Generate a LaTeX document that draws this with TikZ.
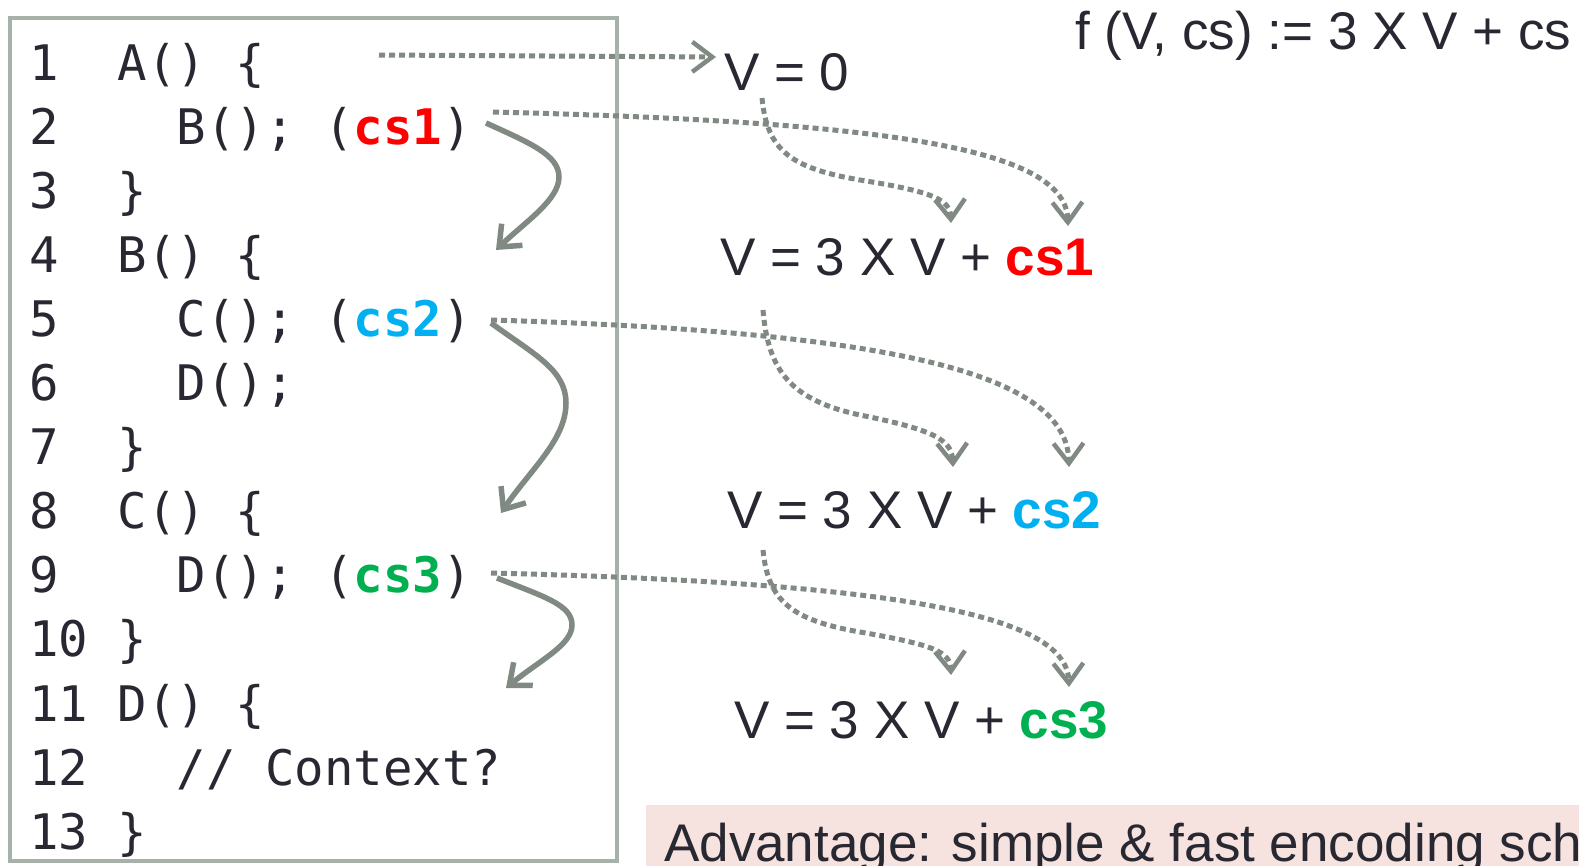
\documentclass[tikz,border=0pt]{standalone}
\usepackage{fontspec}
\setmainfont{Liberation Sans}
\setmonofont{DejaVu Sans Mono}
\usetikzlibrary{arrows.meta}
\definecolor{ink}{RGB}{40,40,50}
\definecolor{boxc}{RGB}{166,177,169}
\definecolor{arrc}{RGB}{128,138,130}
\definecolor{csred}{RGB}{255,0,0}
\definecolor{csblue}{RGB}{0,176,240}
\definecolor{csgreen}{RGB}{0,176,80}
\definecolor{pinkbg}{RGB}{246,226,222}
\begin{document}
\begin{tikzpicture}[x=1pt,y=-1pt,
  codeline/.style={anchor=base west, inner sep=0pt, text=ink, font=\ttfamily\fontsize{49}{59}\selectfont},
  eqtext/.style={anchor=base west, inner sep=0pt, text=ink, font=\fontsize{53}{63}\selectfont},
  dotarrow/.style={draw=arrc, line width=5pt, dash pattern=on 6pt off 4pt,
    -{Straight Barb[length=20pt,width=30pt,line width=4.5pt]}},
  solidarrow/.style={draw=arrc, line width=5.5pt,
    -{Straight Barb[length=18pt,width=30pt,line width=5.5pt]}}]
\useasboundingbox (0,0) rectangle (1579,865);
\clip (0,0) rectangle (1579,865);

% code box
\draw[boxc, line width=4.5pt] (10,18) rectangle (617,861);

% line numbers
\node[codeline] (n1)  at (29,80)    {1};
\node[codeline] (n2)  at (29,144.1) {2};
\node[codeline] (n3)  at (29,208.2) {3};
\node[codeline] (n4)  at (29,272.3) {4};
\node[codeline] (n5)  at (29,336.4) {5};
\node[codeline] (n6)  at (29,400.5) {6};
\node[codeline] (n7)  at (29,464.6) {7};
\node[codeline] (n8)  at (29,528.7) {8};
\node[codeline] (n9)  at (29,592.8) {9};
\node[codeline] (n10) at (29,656.9) {10};
\node[codeline] (n11) at (29,721)   {11};
\node[codeline] (n12) at (29,785.1) {12};
\node[codeline] (n13) at (29,849.2) {13};

% code
\node[codeline] (c1)  at (117.5,80)    {A() \{};
\node[codeline] (c2)  at (176.5,144.1) {B(); (\textbf{\textcolor{csred}{cs1}})};
\node[codeline] (c3)  at (117.5,208.2) {\}};
\node[codeline] (c4)  at (117.5,272.3) {B() \{};
\node[codeline] (c5)  at (176.5,336.4) {C(); (\textbf{\textcolor{csblue}{cs2}})};
\node[codeline] (c6)  at (176.5,400.5) {D();};
\node[codeline] (c7)  at (117.5,464.6) {\}};
\node[codeline] (c8)  at (117.5,528.7) {C() \{};
\node[codeline] (c9)  at (176.5,592.8) {D(); (\textbf{\textcolor{csgreen}{cs3}})};
\node[codeline] (c10) at (117.5,656.9) {\}};
\node[codeline] (c11) at (117.5,721)   {D() \{};
\node[codeline] (c12) at (176.5,785.1) {// Context?};
\node[codeline] (c13) at (117.5,849.2) {\}};

% right-hand formulas
\node[eqtext] (f)  at (1075,49) {f (V, cs) := 3 X V + cs};
\node[eqtext] (v0) at (724,90)  {V = 0};
\node[eqtext] (v1) at (720,275) {V = 3 X V + \textbf{\textcolor{csred}{cs1}}};
\node[eqtext] (v2) at (727,528) {V = 3 X V + \textbf{\textcolor{csblue}{cs2}}};
\node[eqtext] (v3) at (734,738) {V = 3 X V + \textbf{\textcolor{csgreen}{cs3}}};

% bottom banner
\fill[pinkbg] (646,805) rectangle (1600,900);
\node[anchor=base west, inner sep=0pt, text=ink, font=\fontsize{53}{63}\selectfont] (adv) at (664,861)
  {Advantage: simple \& fast encoding scheme};

% connector end points
\coordinate (a0s) at (379,55);
\coordinate (a0e) at (716,57);
\coordinate (s1) at (493,112);  \coordinate (t1) at (1068,226);
\coordinate (u1) at (762,98);   \coordinate (w1) at (951,223);
\coordinate (p1) at (486,123);  \coordinate (q1) at (496,250);
\coordinate (s2) at (491,320);  \coordinate (t2) at (1069,467);
\coordinate (u2) at (763,310);  \coordinate (w2) at (953,467);
\coordinate (p2) at (491,323);  \coordinate (q2) at (501,513);
\coordinate (s3) at (491,573);  \coordinate (t3) at (1069,687);
\coordinate (u3) at (763,550);  \coordinate (w3) at (951,675);
\coordinate (p3) at (497,578);  \coordinate (q3) at (506,688);

% dotted arrow into V = 0
\draw[dotarrow] (a0s) -- (a0e);

% group 1
\draw[dotarrow] (s1) .. controls (900,122) and (1066,150) .. (t1);
\draw[dotarrow] (u1) .. controls (767,150) and (790,168) .. (860,180)
                     .. controls (935,192) and (950,200) .. (w1);
\draw[solidarrow] (p1) .. controls (530,143) and (559,155) .. (559,177)
                       .. controls (559,200) and (525,222) .. (q1);

% group 2
\draw[dotarrow] (s2) .. controls (900,332) and (1067,375) .. (t2);
\draw[dotarrow] (u2) .. controls (768,370) and (790,400) .. (860,415)
                     .. controls (935,430) and (952,440) .. (w2);
\draw[solidarrow] (p2) .. controls (535,355) and (566,370) .. (566,403)
                       .. controls (566,440) and (530,470) .. (q2);

% group 3
\draw[dotarrow] (s3) .. controls (900,583) and (1067,615) .. (t3);
\draw[dotarrow] (u3) .. controls (768,600) and (790,620) .. (860,632)
                     .. controls (935,645) and (950,652) .. (w3);
\draw[solidarrow] (p3) .. controls (545,597) and (572,605) .. (572,625)
                       .. controls (572,645) and (540,660) .. (q3);
\end{tikzpicture}
\end{document}
